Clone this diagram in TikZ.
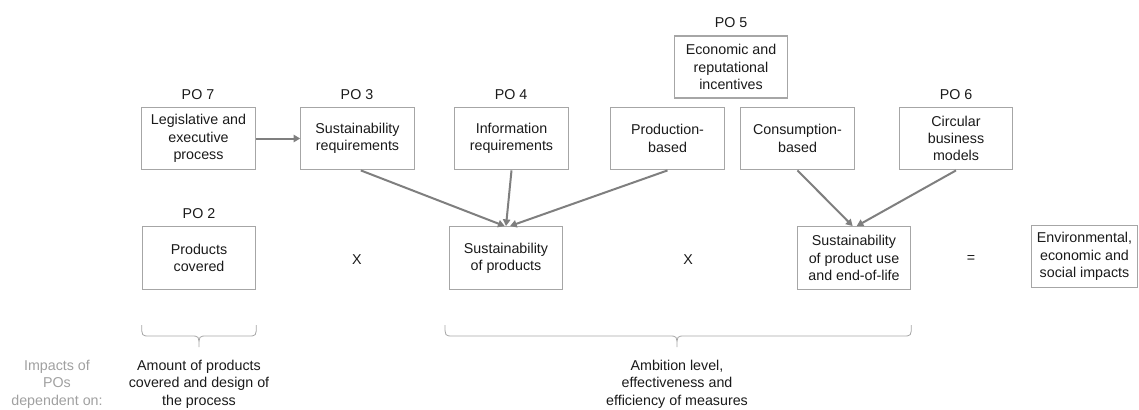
\documentclass[tikz,border=0pt]{standalone}
\usepackage{fontspec}
\setmainfont{Liberation Sans}
\usetikzlibrary{arrows.meta,calc}
\definecolor{boxgray}{HTML}{A6A6A6}
\definecolor{arrgray}{HTML}{7F7F7F}
\definecolor{txtgray}{HTML}{A0A0A0}
\definecolor{txt}{HTML}{1A1A1A}
\begin{document}
\begin{tikzpicture}[x=0.75pt,y=-0.75pt,
  every node/.style={font=\fontsize{10.7}{13}\selectfont, text=txt},
  pobox/.style={draw=boxgray, line width=0.9pt, minimum width=85pt, minimum height=47pt, inner sep=0pt, align=center},
  polabel/.style={inner sep=0pt, anchor=center},
  conn/.style={draw=arrgray, line width=1.5pt, -{Triangle[length=5pt,width=5.5pt]}},
  bracestyle/.style={draw=boxgray, line width=0.6pt},
  note/.style={align=center, inner sep=0pt}
]
\useasboundingbox (0,0) rectangle (1139,410);

% top row
\node[pobox] (po7) at (198.5,138.5) {Legislative and\\executive\\process};
\node[pobox] (po3) at (357.5,138.5) {Sustainability\\requirements};
\node[pobox] (po4) at (511.5,138.5) {Information\\requirements};
\node[pobox] (prod) at (667.5,138.5) {Production-\\based};
\node[pobox] (cons) at (797.5,138.5) {Consumption-\\based};
\node[pobox, minimum height=46.5pt] (po5) at (731,67) {Economic and\\reputational\\incentives};
\node[pobox] (po6) at (956,138.5) {Circular\\business\\models};

\node[polabel] (l7) at (198,95) {PO 7};
\node[polabel] (l3) at (357,95) {PO 3};
\node[polabel] (l4) at (511,95) {PO 4};
\node[polabel] (l5) at (731,23) {PO 5};
\node[polabel] (l6) at (956,95) {PO 6};
\node[polabel] (l2) at (199,214) {PO 2};

% bottom row
\node[pobox] (pc) at (199,258) {Products\\covered};
\node[pobox] (sp) at (506,258) {Sustainability\\of products};
\node[pobox] (su) at (854,258) {Sustainability\\of product use\\and end-of-life};
\node[pobox, minimum width=80pt] (env) at (1084.5,256.5) {Environmental,\\economic and\\social impacts};

\node[polabel] (x1) at (357,260) {X};
\node[polabel] (x2) at (688,260) {X};
\node[polabel] (eq) at (971,259) {=};

% connectors
\draw[conn] (po7.east) -- (po3.west);
\draw[conn] ([xshift=2.5pt]po3.south) -- ([xshift=-1pt]sp.north);
\draw[conn] (po4.south) -- (sp.north);
\draw[conn] (prod.south) -- ([xshift=3pt]sp.north);
\draw[conn] (cons.south) -- ([xshift=-1pt]su.north);
\draw[conn] (po6.south) -- ([xshift=2pt]su.north);

% braces
\coordinate (b1l) at (pc.south west |- 0,325);
\coordinate (b1r) at (pc.south east |- 0,325);
\coordinate (b1t) at (199,347);
\coordinate (b2l) at (445,325);
\coordinate (b2r) at (su.south east |- 0,325);
\coordinate (b2t) at (677,347);
\draw[bracestyle] (b1l) .. controls ($(b1l)+(0,11)$) .. ($(b1l)+(8,11)$) -- ($(b1t)+(-8,-11)$)
  .. controls ($(b1t)+(0,-11)$) .. (b1t) .. controls ($(b1t)+(0,-11)$) .. ($(b1t)+(8,-11)$)
  -- ($(b1r)+(-8,11)$) .. controls ($(b1r)+(0,11)$) .. (b1r);
\draw[bracestyle] (b2l) .. controls ($(b2l)+(0,11)$) .. ($(b2l)+(8,11)$) -- ($(b2t)+(-8,-11)$)
  .. controls ($(b2t)+(0,-11)$) .. (b2t) .. controls ($(b2t)+(0,-11)$) .. ($(b2t)+(8,-11)$)
  -- ($(b2r)+(-8,11)$) .. controls ($(b2r)+(0,11)$) .. (b2r);

% bottom notes
\node[note, text=txtgray, anchor=north] (imp) at (57,360) {Impacts of\\POs\\dependent on:};
\node[note, anchor=north] (amt) at (199,360) {Amount of products\\covered and design of\\the process};
\node[note, anchor=north] (amb) at (677,360) {Ambition level,\\effectiveness and\\efficiency of measures};
\end{tikzpicture}
\end{document}
